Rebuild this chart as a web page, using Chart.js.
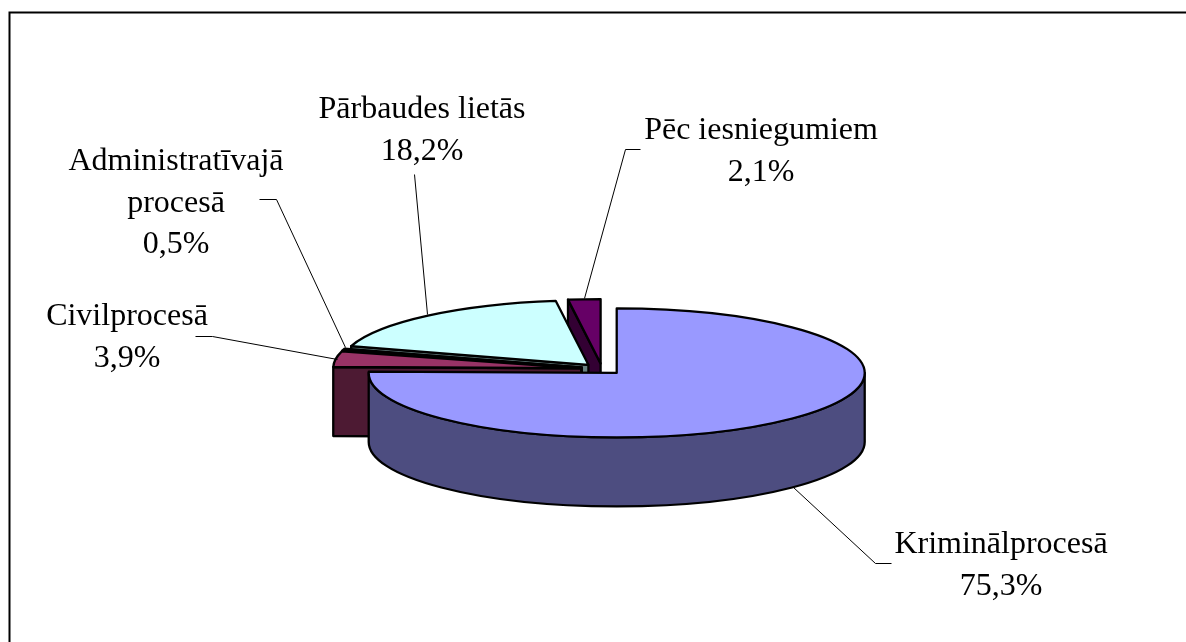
<!DOCTYPE html>
<html><head><meta charset="utf-8">
<script src="https://cdn.jsdelivr.net/npm/chart.js@4"></script>
<style>html,body{margin:0;padding:0;background:#fff;overflow:hidden}canvas{display:block}</style>
</head><body><canvas id="c" width="1186" height="642"></canvas>
<script>
const categories = ['Kriminālprocesā','Civilprocesā','Administratīvajā procesā','Pārbaudes lietās','Pēc iesniegumiem'];
const shares = [75.3,3.9,0.5,18.2,2.1];
const topColors = ['#9999FF','#993366','#FFFFCC','#CCFFFF','#660066'];
const wallColors = ['#4D4D80','#4D1A33','#808066','#668080','#330033'];
const paintOrder = [4,3,2,1,0];

const SQUASH = 0.26, DEPTH = 69, EXPLODE = 21, EDGE = '#000';
const FONT = '32px "Liberation Serif","Times New Roman",serif';
function pct(i){return shares[i].toFixed(1).replace('.',',')+'%';}
const labelLayout = [
  {lines:[categories[0], pct(0)], x:1001, y:553, path:[[793,487],[875,563],[891,563]]},
  {lines:[categories[1], pct(1)], x:127, y:325, path:[[337,359],[212,336],[195,336]]},
  {lines:['Administratīvajā','procesā', pct(2)], x:176, y:170, path:[[345,347],[276,199],[259,199]]},
  {lines:[categories[3], pct(3)], x:422, y:118, path:[[427,314],[414,174]]},
  {lines:[categories[4], pct(4)], x:761, y:139, path:[[584,298],[625,149],[640,149]]}
];

const prism = {
  id:'prism',
  beforeDraw(chart){
    const c = chart.ctx;
    c.save(); c.fillStyle='#fff'; c.fillRect(0,0,chart.width,chart.height);
    c.strokeStyle='#000'; c.lineWidth=2;
    c.beginPath(); c.moveTo(9.5,chart.height); c.lineTo(9.5,12.5); c.lineTo(chart.width,12.5); c.stroke();
    c.restore();
  },
  beforeDatasetDraw(chart){
    const c = chart.ctx, arcs = chart.getDatasetMeta(0).data;
    paintOrder.forEach(i=>{
      const arc = arcs[i], p = arc.getProps(['x','y','startAngle','endAngle','outerRadius']);
      const mid = (p.startAngle+p.endAngle)/2;
      const ox = Math.cos(mid)*EXPLODE, oy = Math.sin(mid)*EXPLODE;
      const cx = p.x+ox, cy = p.y+oy*SQUASH, r = p.outerRadius, ry = r*SQUASH;
      const face = a=>{
        const qx = cx+r*Math.cos(a), qy = cy+ry*Math.sin(a);
        c.beginPath(); c.moveTo(cx,cy); c.lineTo(qx,qy); c.lineTo(qx,qy+DEPTH); c.lineTo(cx,cy+DEPTH); c.closePath();
        c.fillStyle = wallColors[i]; c.fill(); c.stroke();
      };
      c.save();
      c.strokeStyle=EDGE; c.lineWidth=2.3; c.lineJoin='round';
      if(Math.cos(p.startAngle)<-1e-3) face(p.startAngle);
      if(Math.cos(p.endAngle)>1e-3) face(p.endAngle);
      const s = Math.max(p.startAngle,0), e = Math.min(p.endAngle,Math.PI);
      if(e>s){
        c.beginPath(); c.ellipse(cx,cy,r,ry,0,s,e);
        c.ellipse(cx,cy+DEPTH,r,ry,0,e,s,true); c.closePath();
        c.fillStyle = wallColors[i]; c.fill(); c.stroke();
      }
      c.save();
      c.translate(ox,p.y+oy*SQUASH); c.scale(1,SQUASH); c.translate(0,-p.y);
      arc.draw(c);
      c.restore();
      c.beginPath(); c.moveTo(cx,cy); c.ellipse(cx,cy,r,ry,0,p.startAngle,p.endAngle); c.closePath(); c.stroke();
      c.restore();
    });
    return false;
  },
  afterDraw(chart){
    const c = chart.ctx;
    c.save(); c.font=FONT; c.fillStyle='#000'; c.textAlign='center'; c.textBaseline='alphabetic';
    labelLayout.forEach(l=>{
      l.lines.forEach((t,j)=>c.fillText(t,l.x,l.y+j*41.5));
      c.beginPath(); l.path.forEach((q,j)=>j?c.lineTo(q[0]+.5,q[1]+.5):c.moveTo(q[0]+.5,q[1]+.5));
      c.strokeStyle='#000'; c.lineWidth=1; c.stroke();
    });
    c.restore();
  }
};

new Chart(document.getElementById('c'),{
  type:'pie',
  data:{labels:categories,datasets:[{data:shares,backgroundColor:topColors,borderWidth:0,clip:false}]},
  options:{
    responsive:false,animation:false,radius:248,
    layout:{padding:{left:18,top:96}},
    events:[],
    plugins:{legend:{display:false},tooltip:{enabled:false}}
  },
  plugins:[prism]
});
</script>
</body></html>
